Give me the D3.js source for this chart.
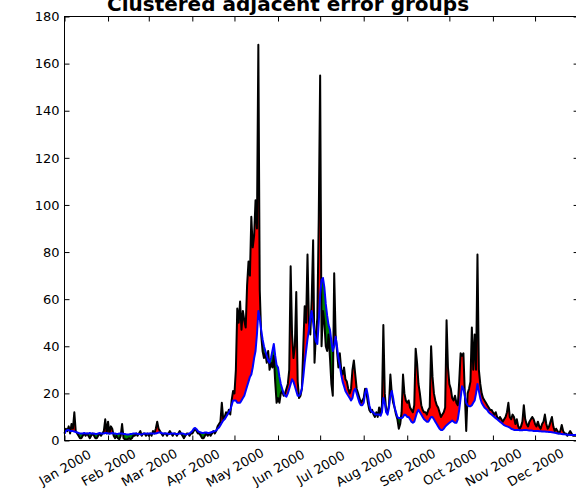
<!DOCTYPE html>
<meta charset="utf-8">
<style>
    body { margin: 0; background: #fff; }
    svg { display: block; }
    text { font-family: "DejaVu Sans", sans-serif; fill: #000; }
    .title { font-size: 20px; font-weight: bold; }
    .axis text { font-size: 13px; }
    .axis line { stroke: #000; }
</style>

<svg width="576" height="491"></svg>

<script src="https://cdnjs.cloudflare.com/ajax/libs/d3/7.8.5/d3.min.js"></script>

<script>
    // daily values for 2000, one row per month
    var startDate = new Date(2000, 0, 1);

    var observed = [
        3,5,4,6,3,7,5,12,4,3, 2,1,1,2,3,2,3,2,1,2, 3,2,1,1,2,3,2,3,4,9, 3,
        8,3,6,5,2,1,2,1,0.5,2, 7,1,0.5,0.3,0.5,1,0.5,1,2,2, 3,2,3,4,2,3,3,2,3,
        2,3,2,4,3,5,8,5,4,3, 2,3,3,2,3,4,3,2,3,3, 2,3,4,3,2,1,2,3,3,2, 3,
        3,4,5,4,3,3,2,1,1,2, 3,2,3,2,3,4,3,4,6,7, 8,16,9,10,12,11,13,11,17,21,
        20,30,56,50,59,47,55,51,48,66, 76,70,95,82,87,102,90,168,64,45, 38,35,37,33,38,30,33,31,36,25, 16,
        18,16,20,21,19,20,22,24,30,74, 45,35,40,63,25,18,19,22,40,57, 50,79,50,45,60,85,33,45,52,94,
        155,40,55,50,40,38,45,35,24,19, 71,45,38,31,37,30,28,31,26,25, 22,20,22,30,34,28,22,20,18,16, 17,
        18,22,20,16,13,12,13,11,10,12, 10,14,11,15,49,20,13,12,15,28, 20,16,14,11,9,5,7,12,28,20, 17,
        16,17,14,13,12,15,39,33,24,20, 15,13,12,12,11,13,14,40,27,20, 17,15,14,12,10,11,12,14,51,31,
        24,22,18,17,19,16,15,25,37,36, 37,20,4,20,22,25,48,30,45,30, 79,30,24,20,18,17,16,15,14,13, 13,
        12,11,12,10,9,10,9,8,9,10, 12,16,10,9,11,10,7,9,6,5, 6,8,15,9,7,6,8,9,10,9,
        7,6,8,6,5,7,8,11,7,5, 6,8,10,6,4,5,4,3,4,6.6, 4,3,3,2,3,4,3,2,2,2, 3
    ];

    var simulated = [
        3,4,4.5,4.5,4,4,4,3.8,3.6,3.4, 3.2,3,3,3,3.2,3,3,3,3.2,3, 3,3,2.8,2.8,3,3.2,3,3,3,3.2, 3.2,
        3,3,3,3.2,3,3,2.8,2.8,3,3, 3,2.8,2.8,2.6,2.6,2.6,2.8,2.8,3,3, 3,2.8,2.8,2.6,2.6,2.8,3,3,2.8,
        3,3,3,3,3,3,3.2,3.4,3.4,3.2, 3,3,3,3,2.8,2.8,3,3,3,2.8, 2.8,2.8,3,3,3,2.8,2.6,2.6,2.8,3, 3.5,
        4,5,5.3,4.8,4,3.6,3.4,3.2,3.2,3.4, 3.4,3.2,3.2,3.4,3.6,3.8,4,4.2,5,5.5, 6.5,7.5,8.5,9,10,11,12,13,15,17,
        17,17,16,16,16,17,18,19,21,23, 25,27,28,31,35,38,45,55,52,47, 43,40,38,36,34,33,35,38,41,36, 32,
        31,27,24,22,20,19,18.6,20,22,24, 26,25,23,21,19,19,20,22,27,33, 38,43,47,52,55,50,45,42,41,50,
        62,68,69,65,58,53,49,47,42,38, 40,44,40,35,32,28,25,23,21,20, 19,18,17,18,21,22,20,18,16,15, 15,
        16,20,22,19,15,13,12,12,11,11, 11,11,10.5,12,18,16,12,11,14,19, 21,18,14,12,10,9.5,9.5,9.5,10,11, 10.8,
        10,10,9,8,7.5,8,10,12,13,12, 11,10,9,8.5,8,8,9,10,10,9, 8,7,6,5,4.5,4.5,5,5.9,6.5,7,
        7.5,8,8.5,8,7.5,7.5,9,13,18,23, 22,19,16,15,14.5,14.5,15,16,17,20, 24,21,18,16,15,14,13.5,13,12,11.5, 11,
        10.5,10,9.5,9,8.5,8,7.5,7,6.5,6.2, 6,5.8,5.5,5,4.8,4.5,4.5,4.5,4.5,4.3, 4.3,4.3,4.5,4.5,4.5,4.3,4.2,4.2,4.2,4,
        4,4,4,3.9,3.9,3.8,3.8,3.8,3.7,3.7, 3.6,3.6,3.5,3.4,3.3,3.2,3,3,2.9,2.8, 2.7,2.6,2.5,2.4,2.4,2.3,2.3,2.3,2.3,2.3, 2.3
    ];

    var yTicks = [0, 20, 40, 60, 80, 100, 120, 140, 160, 180];

    var svg = d3.select("svg"),
        plotLeft = 64.5, plotRight = 578.6, plotTop = 16.5, plotBottom = 440.5;

    var data = observed.map(function (v, i) {
        return {date: d3.timeDay.offset(startDate, i), obs: v, sim: simulated[i]};
    });

    var x = d3.scaleTime()
            .domain([startDate, new Date(2001, 0, 1)])
            .range([plotLeft, plotRight]);

    var y = d3.scaleLinear()
            .domain([0, 180])
            .range([plotBottom, plotTop]);

    // red where observed is above simulated, green where below
    var redArea = d3.area()
            .x(function (d) { return x(d.date); })
            .y0(function (d) { return y(d.sim); })
            .y1(function (d) { return y(Math.max(d.obs, d.sim)); });

    var greenArea = d3.area()
            .x(function (d) { return x(d.date); })
            .y0(function (d) { return y(d.obs); })
            .y1(function (d) { return y(Math.max(d.obs, d.sim)); });

    svg.append("path").datum(data).attr("d", redArea).attr("fill", "#ff0000");
    svg.append("path").datum(data).attr("d", greenArea).attr("fill", "#008000");

    var obsLine = d3.line()
            .x(function (d) { return x(d.date); })
            .y(function (d) { return y(d.obs); });

    var simLine = d3.line()
            .x(function (d) { return x(d.date); })
            .y(function (d) { return y(d.sim); });

    svg.append("path").datum(data).attr("d", obsLine)
            .attr("fill", "none").attr("stroke", "#000").attr("stroke-width", 2)
            .attr("stroke-linejoin", "round");

    svg.append("path").datum(data).attr("d", simLine)
            .attr("fill", "none").attr("stroke", "#0000ff").attr("stroke-width", 2)
            .attr("stroke-linejoin", "round");

    var months = d3.timeMonth.range(startDate, new Date(2001, 0, 1));

    var xAxis = svg.append("g")
            .attr("class", "axis")
            .attr("transform", "translate(0," + plotBottom + ")")
            .call(d3.axisBottom(x).tickValues(months).tickFormat(d3.timeFormat("%b %Y"))
                    .tickSizeInner(-5).tickSizeOuter(0));
    xAxis.select(".domain").remove();
    xAxis.selectAll("text")
            .attr("y", null)
            .attr("dy", "0.35em")
            .attr("text-anchor", "middle")
            .attr("transform", "translate(0,27) rotate(-30)");

    var yAxis = svg.append("g")
            .attr("class", "axis")
            .attr("transform", "translate(" + plotLeft + ",0)")
            .call(d3.axisLeft(y).tickValues(yTicks).tickSizeInner(-5).tickSizeOuter(0).tickPadding(5));
    yAxis.select(".domain").remove();

    var topAxis = svg.append("g")
            .attr("class", "axis")
            .attr("transform", "translate(0," + plotTop + ")")
            .call(d3.axisTop(x).tickValues(months).tickFormat("").tickSizeInner(-5).tickSizeOuter(0));
    topAxis.select(".domain").remove();

    var rightAxis = svg.append("g")
            .attr("class", "axis")
            .attr("transform", "translate(" + plotRight + ",0)")
            .call(d3.axisRight(y).tickValues(yTicks).tickFormat("").tickSizeInner(-5).tickSizeOuter(0));
    rightAxis.select(".domain").remove();

    svg.append("rect")
            .attr("x", plotLeft).attr("y", plotTop)
            .attr("width", plotRight - plotLeft).attr("height", plotBottom - plotTop)
            .attr("fill", "none").attr("stroke", "#000").attr("stroke-width", 1);

    // title sits partly above the page edge, as in the reference
    svg.append("text")
            .attr("class", "title")
            .attr("x", 288).attr("y", 10.5)
            .attr("text-anchor", "middle")
            .text("Clustered adjacent error groups");
</script>
